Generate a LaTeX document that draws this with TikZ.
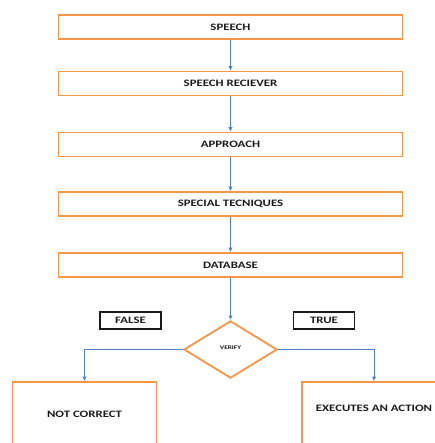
\documentclass[tikz,border=0pt]{standalone}
\usepackage{fontspec}
\newfontfamily\flowfont{Carlito}[FakeStretch=1.3]
\usetikzlibrary{arrows.meta,shapes.geometric}
\definecolor{peel}{HTML}{F79646}
\definecolor{wire}{HTML}{4F81BD}
\definecolor{ink}{HTML}{1A1A1A}

\begin{document}
\begin{tikzpicture}[x=0.025cm,y=-0.025cm,
  stepbox/.style={draw=peel,line width=1.3pt,minimum width=8.6cm,minimum height=0.6cm,inner sep=0pt,text=ink,font=\flowfont\bfseries\fontsize{7}{8}\selectfont},
  endbox/.style={draw=peel,line width=1.3pt,minimum width=3.6cm,minimum height=1.6cm,inner sep=0pt,text=ink,font=\flowfont\bfseries\fontsize{7}{8}\selectfont},
  tagbox/.style={draw=ink,line width=0.9pt,minimum width=1.52cm,minimum height=0.43cm,inner sep=0pt,text=ink,font=\flowfont\bfseries\fontsize{7}{8}\selectfont},
  flow/.style={-{Latex[length=1.1mm,width=1.1mm]},wire,line width=0.6pt}]
  \useasboundingbox (0,0) rectangle (435,443);
  \clip (0,0) rectangle (435,443);
  \node[stepbox] (speech) at (230.5,27) {SPEECH};
  \node[stepbox] (recv) at (230.5,83.5) {SPEECH RECIEVER};
  \node[stepbox] (appr) at (230.5,144.5) {APPROACH};
  \node[stepbox] (tech) at (230.5,204) {SPECIAL TECNIQUES};
  \node[stepbox] (db) at (230.5,265) {DATABASE};
  \node[diamond,draw=peel,line width=1.3pt,minimum width=2.33cm,minimum height=1.43cm,inner sep=0pt,text=ink,font=\flowfont\bfseries\fontsize{4}{5}\selectfont] (verify) at (230.5,349.5) {\raisebox{3pt}{VERIFY}};
  \node[tagbox] (false) at (130.5,320.5) {FALSE};
  \node[tagbox] (true) at (324,320.5) {TRUE};
  \node[endbox] (wrong) at (84.5,414) {NOT CORRECT};
  \node[endbox,text depth=0.3cm] (act) at (374,414) {EXECUTES AN ACTION};
  \draw[flow] (speech) -- (recv);
  \draw[flow] (recv) -- (appr);
  \draw[flow] (appr) -- (tech);
  \draw[flow] (tech) -- (db);
  \draw[flow] (db) -- (verify);
  \draw[flow] (verify.west) -| (wrong.north);
  \draw[flow] (verify.east) -| (act.north);
\end{tikzpicture}
\end{document}
